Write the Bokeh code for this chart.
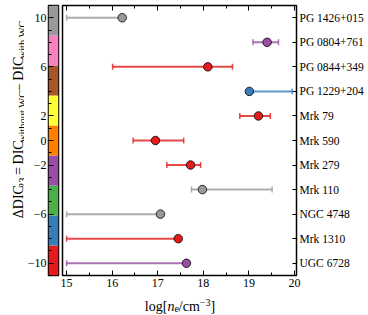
import numpy as np
from bokeh.plotting import figure
from bokeh.models import Range1d, FixedTicker, LinearAxis, CustomLabelingPolicy
from bokeh.layouts import row, column
from bokeh.embed import file_html
from bokeh.resources import INLINE

# ---------------- data ----------------
names = ["PG 1426+015", "PG 0804+761", "PG 0844+349", "PG 1229+204", "Mrk 79",
         "Mrk 590", "Mrk 279", "Mrk 110", "NGC 4748", "Mrk 1310", "UGC 6728"]
rows = [10, 8, 6, 4, 2, 0, -2, -4, -6, -8, -10]
ne_best = [16.22, 19.40, 18.10, 19.01, 19.21, 16.95, 17.72, 17.98, 17.06, 17.45, 17.63]
ne_lo = [15.00, 19.09, 16.01, 19.01, 18.80, 16.46, 17.20, 17.74, 15.00, 15.00, 15.00]
ne_hi = [16.22, 19.65, 18.64, 19.95, 19.47, 17.57, 17.94, 19.51, 17.06, 17.45, 17.63]
point_colors = ["#999999", "#984ea3", "#e41a1c", "#377eb8", "#e41a1c", "#e41a1c",
                "#e41a1c", "#999999", "#999999", "#e41a1c", "#984ea3"]

cbar_colors = ["#e41a1c", "#377eb8", "#4daf4a", "#984ea3", "#ff7f00",
               "#ffff33", "#a65628", "#f781bf", "#999999"]
cbar_min, cbar_max = -11, 11
cbar_ticks = [-10, -6, -2, 0, 2, 6, 10]
cbar_minor = list(range(-11, 12))
x_min, x_max = 14.91, 20.045
x_ticks = [15, 16, 17, 18, 19, 20]
x_minor = [14.5 + 0.5 * i for i in range(13)]

FONT = "Liberation Serif"
H1 = 292
XLAB_H = 22
TOP = 5
BOT = 17

# Times / Liberation Serif advance widths (per 1000 em)
WID = {"Δ": 612, "D": 722, "I": 333, "C": 667, "W": 944, " ": 250, "=": 564, "−": 564,
       "w": 722, "i": 278, "t": 278, "h": 500, "o": 500, "u": 500, "l": 278, "g": 500,
       "[": 333, "]": 333, "n": 500, "e": 444, "/": 278, "c": 444, "m": 778,
       "2": 500, "3": 500}

def tw(s, size):
    return sum(WID[c] for c in s) * size / 1000.0

def minus(v):
    return str(v).replace("-", "\u2212")

# ---------------- y-label figure ----------------
LAB_W = 24
lab = figure(width=LAB_W, height=H1, x_range=Range1d(0, LAB_W), y_range=Range1d(0, H1),
             x_axis_location=None, y_axis_location=None, min_border=0,
             output_backend="svg", toolbar_location=None)
lab.grid.visible = False
lab.outline_line_color = None

MAIN_FS, SUB_FS = 14, 10.5
ypieces = [("ΔDIC", MAIN_FS, 0), ("23", SUB_FS, 1), (" ", MAIN_FS, None), ("=", MAIN_FS, 0),
           (" ", MAIN_FS, None), ("DIC", MAIN_FS, 0), ("without WC", SUB_FS, 1),
           (" ", MAIN_FS, None), ("−", MAIN_FS, 0), (" ", MAIN_FS, None),
           ("DIC", MAIN_FS, 0), ("with WC", SUB_FS, 1)]
total = sum(tw(t, s) for t, s, _ in ypieces)
ypos = (H1 - 136.5 + 12) - total / 2.0
for t, s, sub in ypieces:
    if sub is not None:
        lab.text(x=[18 + 3.5 * sub], y=[ypos], text=[t], angle=np.pi / 2,
                 text_font=FONT, text_font_size=f"{s}px", text_align="left",
                 text_baseline="alphabetic", text_color="black")
    ypos += tw(t, s)

# ---------------- colour bar figure ----------------
CB_LEFT = 21
CB_FRAME = 13
CB_RIGHT = 2
cb = figure(width=CB_LEFT + CB_FRAME + CB_RIGHT, height=H1,
            x_range=Range1d(0, 1), y_range=Range1d(cbar_min, cbar_max),
            x_axis_location=None, y_axis_location="left",
            min_border_left=CB_LEFT, min_border_right=CB_RIGHT,
            min_border_top=TOP, min_border_bottom=BOT,
            output_backend="svg", toolbar_location=None)
cb.grid.visible = False
edges = np.linspace(cbar_min, cbar_max, len(cbar_colors) + 1)
cb.quad(left=0, right=1, bottom=edges[:-1], top=edges[1:], fill_color=cbar_colors,
        line_color=None)
cb.outline_line_color = "black"
cb.outline_line_width = 1.5
ya = cb.yaxis[0]
ya.ticker = FixedTicker(ticks=cbar_ticks, minor_ticks=cbar_minor)
ya.major_label_overrides = {v: minus(v) for v in cbar_ticks}
ya.major_tick_in = 5
ya.major_tick_out = 0
ya.minor_tick_in = 3
ya.minor_tick_out = 0
ya.axis_line_color = None
ya.major_tick_line_width = 1
ya.minor_tick_line_width = 1
ya.major_label_standoff = 2
ya.major_label_text_font = FONT
ya.major_label_text_font_size = "12px"
ya.major_label_text_color = "black"

# ---------------- main figure ----------------
RB = 69
MAIN_W = 306
p = figure(width=MAIN_W, height=H1, x_range=Range1d(x_min, x_max),
           y_range=Range1d(cbar_min, cbar_max), y_axis_location="right",
           min_border_left=2, min_border_right=RB, min_border_top=TOP, min_border_bottom=BOT,
           output_backend="svg", toolbar_location=None)
p.grid.visible = False
p.outline_line_color = "black"
p.outline_line_width = 1.5

xa = p.xaxis[0]
xa.ticker = FixedTicker(ticks=x_ticks, minor_ticks=x_minor)
xa.major_tick_in = 5
xa.major_tick_out = 0
xa.minor_tick_in = 3
xa.minor_tick_out = 0
xa.axis_line_color = None
xa.major_label_standoff = 3
xa.major_label_text_font = FONT
xa.major_label_text_font_size = "12px"
xa.major_label_text_color = "black"

no_labels = CustomLabelingPolicy(code="for (const i of indices) { indices.unset(i) }\nreturn indices")
top = LinearAxis(ticker=FixedTicker(ticks=x_ticks, minor_ticks=x_minor),
                 major_tick_in=5, major_tick_out=0, minor_tick_in=3, minor_tick_out=0,
                 axis_line_color=None, major_label_standoff=0,
                 major_label_text_font_size="0px", major_label_policy=no_labels)
p.add_layout(top, "above")

ra = p.yaxis[0]
ra.ticker = FixedTicker(ticks=rows, minor_ticks=[])
ra.major_label_overrides = {r: n for r, n in zip(rows, names)}
ra.major_tick_in = 4
ra.major_tick_out = 0
ra.axis_line_color = None
ra.major_label_standoff = 3
ra.major_label_text_font = FONT
ra.major_label_text_font_size = "11.5px"
ra.major_label_text_color = "black"

p.segment(x0=ne_lo, y0=rows, x1=ne_hi, y1=rows, line_color=point_colors,
          line_alpha=0.8, line_width=2)
p.scatter(x=ne_lo + ne_hi, y=rows + rows, marker="dash", angle=np.pi / 2, size=6,
          line_color=point_colors + point_colors, line_alpha=0.8, line_width=1.5)
p.scatter(x=ne_best, y=rows, size=8.5, fill_color=point_colors, line_color="black",
          line_width=0.8)

# ---------------- x-label figure ----------------
TOTAL_W = LAB_W + cb.width + MAIN_W
xl = figure(width=TOTAL_W, height=XLAB_H, x_range=Range1d(0, TOTAL_W), y_range=Range1d(0, XLAB_H),
            x_axis_location=None, y_axis_location=None, min_border=0,
            output_backend="svg", toolbar_location=None)
xl.grid.visible = False
xl.outline_line_color = None
frame_left = LAB_W + cb.width + 2
frame_right = TOTAL_W - RB
xcenter = (frame_left + frame_right) / 2.0
xpieces = [("log[", 14, "normal", 0), ("n", 14, "italic", 0), ("e", 10, "normal", -2.5),
           ("/cm", 14, "normal", 0), ("−3", 10, "normal", 4), ("]", 14, "normal", 0)]
xt = sum(tw(t, s) for t, s, _, _ in xpieces)
xpos = xcenter - xt / 2.0
for t, s, st, dy in xpieces:
    xl.text(x=[xpos], y=[8.5 + dy], text=[t], text_font=FONT, text_font_size=f"{s}px",
            text_font_style=st, text_align="left", text_baseline="alphabetic",
            text_color="black")
    xpos += tw(t, s)

layout = column(row(lab, cb, p), xl)
open("out.html", "w").write(file_html(layout, INLINE))
